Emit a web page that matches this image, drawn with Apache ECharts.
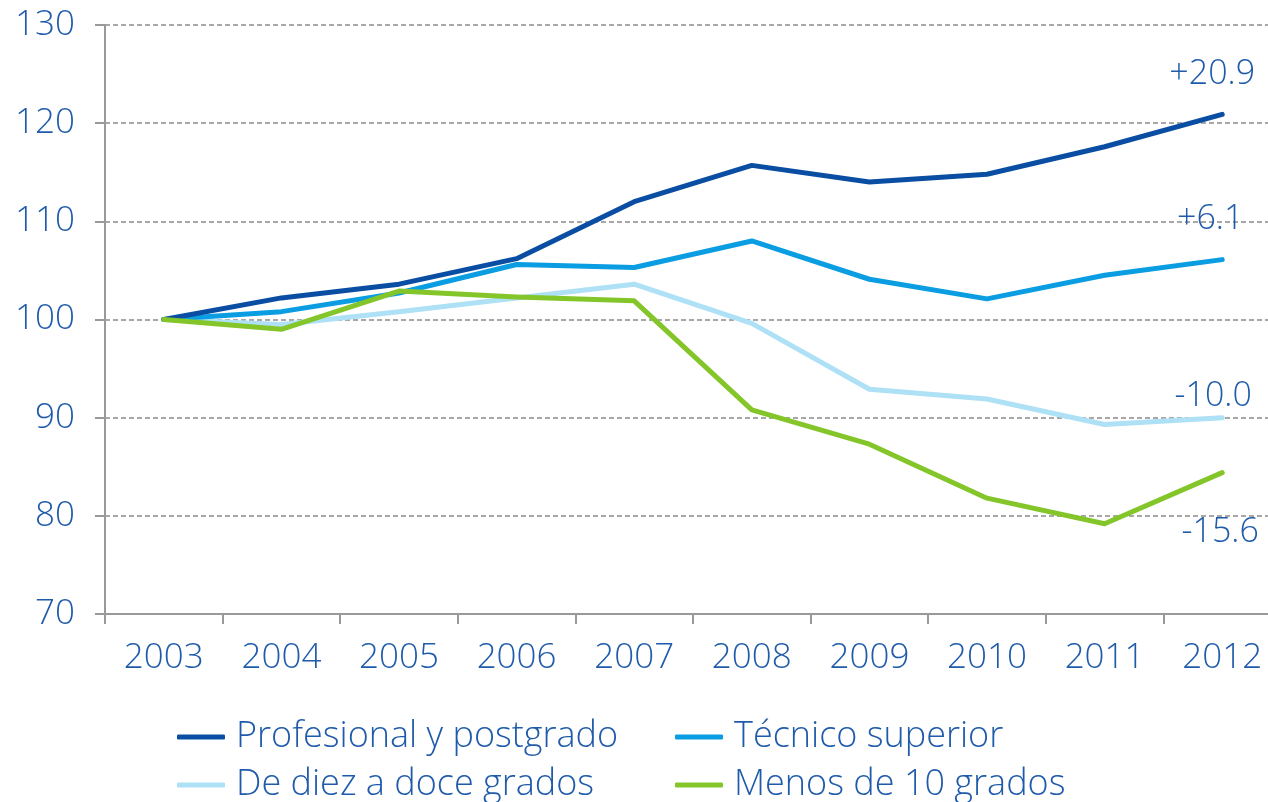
<!DOCTYPE html>
<html>
<head>
<meta charset="utf-8">
<script src="https://cdn.jsdelivr.net/npm/echarts@6/dist/echarts.min.js"></script>
<style>
  html, body { margin: 0; padding: 0; background: #fff; }
  #chart { width: 1268px; height: 802px; }
</style>
</head>
<body>
<div id="chart"></div>
<script>
var years = ["2003", "2004", "2005", "2006", "2007", "2008", "2009", "2010", "2011", "2012"];
var profesional = [100, 102.2, 103.6, 106.2, 112.0, 115.7, 114.0, 114.8, 117.6, 120.9];
var tecnico = [100, 100.8, 102.7, 105.6, 105.3, 108.0, 104.1, 102.1, 104.5, 106.1];
var diezDoce = [100, 99.5, 100.8, 102.2, 103.6, 99.6, 92.9, 91.9, 89.3, 90.0];
var menosDiez = [100, 99.0, 102.9, 102.3, 101.9, 90.8, 87.3, 81.8, 79.2, 84.4];
var endLabels = ["+20.9", "+6.1", "-10.0", "-15.6"];
var yTicks = [70, 80, 90, 100, 110, 120, 130];
var seriesNames = ["Profesional y postgrado", "Técnico superior", "De diez a doce grados", "Menos de 10 grados"];

var textColor = "#1f5baa";
var fontFam = "'Open Sans', Lato, sans-serif";

function makeSeries(name, values, color, z, labelText, offset) {
    return {
        name: name,
        type: "line",
        data: values,
        z: z,
        symbol: "none",
        lineStyle: { color: color, width: 5, cap: "round", join: "round" },
        itemStyle: { color: color },
        emphasis: { disabled: true },
        endLabel: {
            show: true,
            formatter: function () { return labelText; },
            color: textColor,
            fontFamily: fontFam,
            fontWeight: 300,
            fontSize: 34,
            distance: 0,
            align: "center",
            verticalAlign: "middle",
            offset: offset
        }
    };
}

function makeLegend(name, left, top) {
    return {
        left: left,
        top: top,
        itemWidth: 48,
        itemHeight: 5,
        icon: "roundRect",
        data: [name],
        textStyle: { color: textColor, fontSize: 36, fontFamily: fontFam, fontWeight: 300, padding: [0, 0, 0, 6], lineHeight: 36 }
    };
}

var myChart = echarts.init(document.getElementById("chart"));
var option = {
    animation: false,
    backgroundColor: "#fff",
    grid: { left: 105, top: 25, width: 1176, height: 589, containLabel: false, outerBoundsMode: "none" },
    xAxis: {
        type: "category",
        data: years,
        boundaryGap: true,
        axisLine: { show: true, lineStyle: { color: "#999", width: 2 } },
        axisTick: { show: true, length: 10, lineStyle: { color: "#999", width: 2 } },
        axisLabel: { color: textColor, fontSize: 35, fontFamily: fontFam, fontWeight: 300, margin: 27 },
        splitLine: { show: false }
    },
    yAxis: {
        type: "value",
        min: yTicks[0],
        max: yTicks[yTicks.length - 1],
        interval: 10,
        axisLine: { show: true, lineStyle: { color: "#999", width: 2 } },
        axisTick: { show: true, length: 10, lineStyle: { color: "#999", width: 2 } },
        axisLabel: { color: textColor, fontSize: 35, fontFamily: fontFam, fontWeight: 300, margin: 30 },
        splitLine: { show: true, lineStyle: { color: "#8c8c8c", width: 1.5, type: [5, 3] } }
    },
    legend: [
        makeLegend(seriesNames[0], 172, 714),
        makeLegend(seriesNames[1], 670, 714),
        makeLegend(seriesNames[2], 172, 762),
        makeLegend(seriesNames[3], 670, 762)
    ],
    series: [
        makeSeries(seriesNames[0], profesional, "#0a4ea3", 4, endLabels[0], [-10, -40]),
        makeSeries(seriesNames[1], tecnico, "#0a9de2", 3, endLabels[1], [-12, -40]),
        makeSeries(seriesNames[2], diezDoce, "#aee1f5", 2, endLabels[2], [-9, -21]),
        makeSeries(seriesNames[3], menosDiez, "#84c62a", 5, endLabels[3], [-2, 60])
    ]
};
myChart.setOption(option);
</script>
</body>
</html>
